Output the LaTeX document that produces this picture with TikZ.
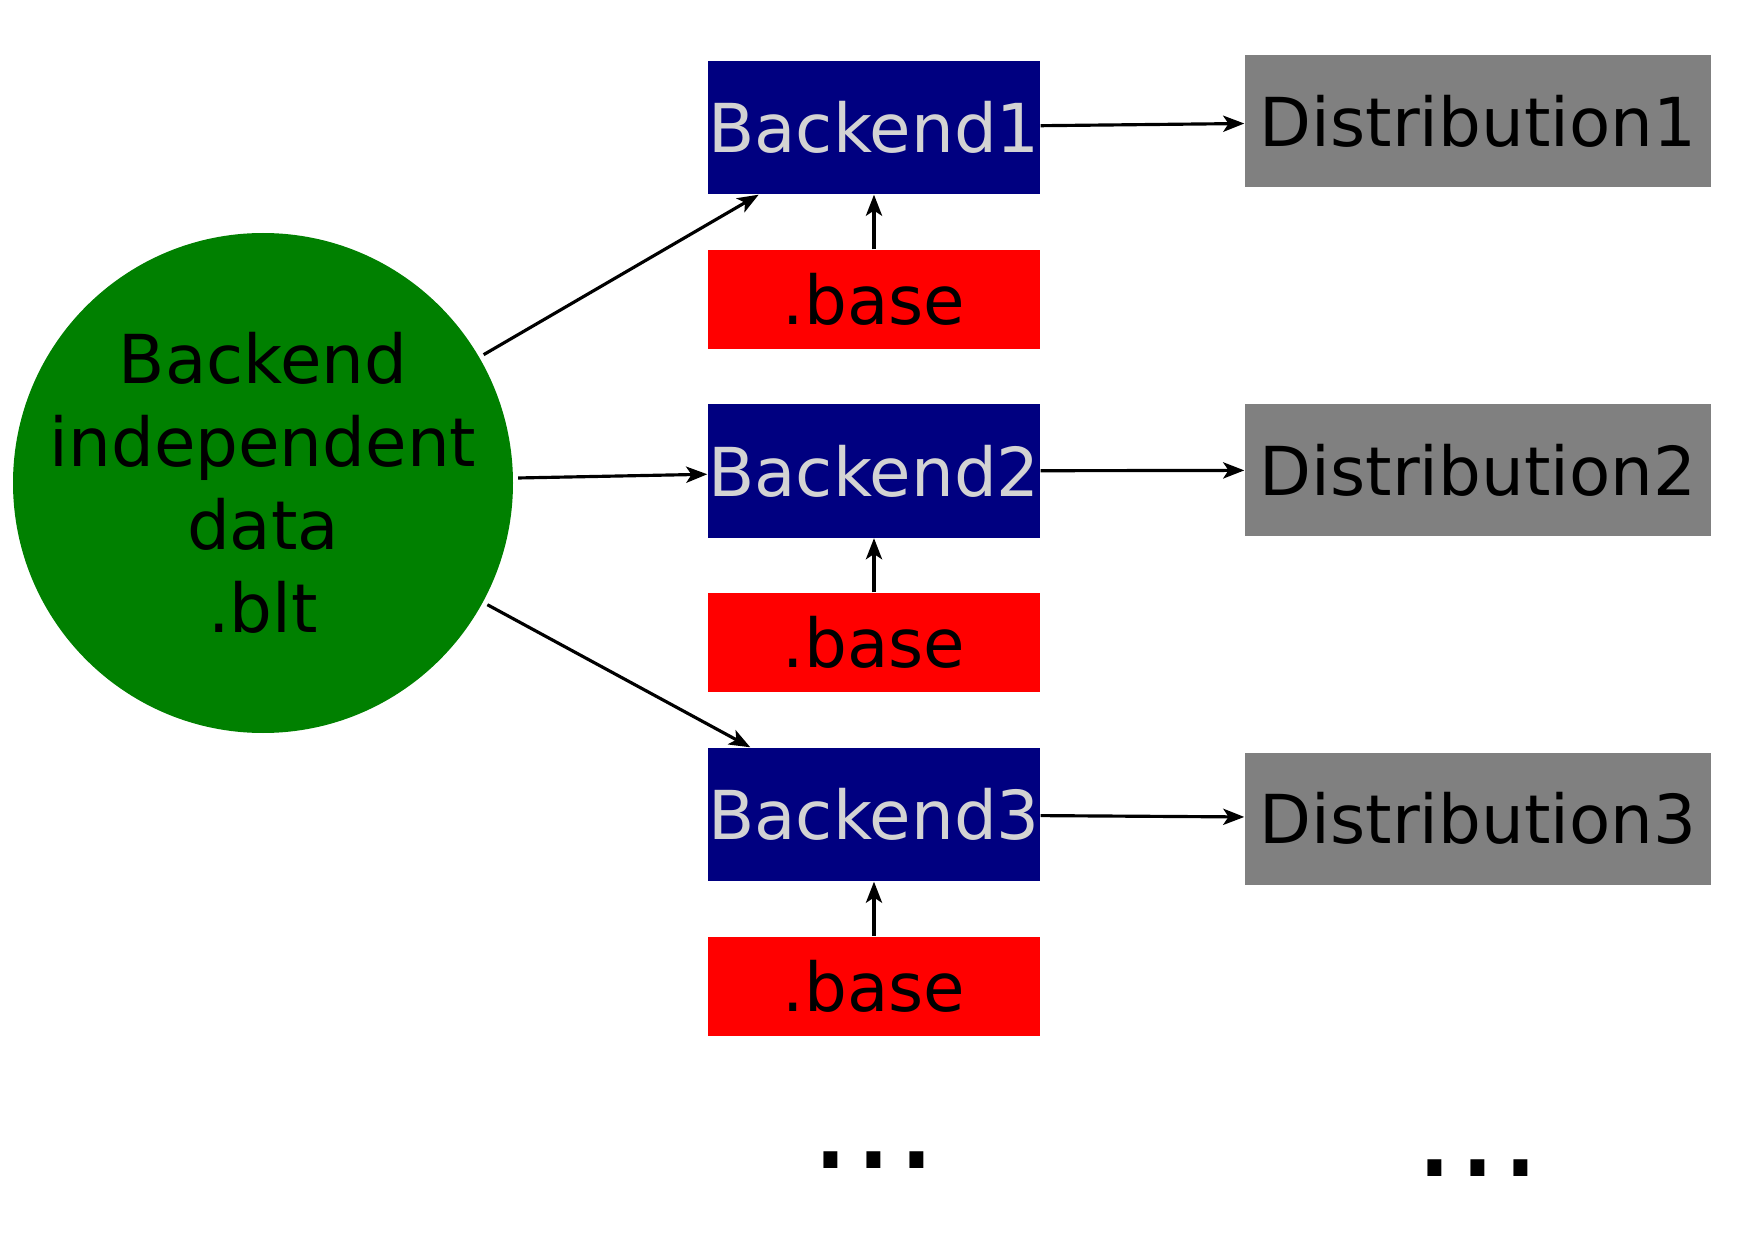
\documentclass[tikz,border=0pt]{standalone}
\usepackage{fontspec}
\setmainfont{DejaVu Sans}
\usetikzlibrary{positioning}
\usetikzlibrary{arrows.meta}
\definecolor{bltgreen}{HTML}{008000}
\definecolor{bknavy}{HTML}{000080}
\definecolor{bktext}{HTML}{D3D3D3}
\tikzset{>={Stealth[length=6pt,width=4.6pt,inset=1.5pt]}}
\tikzset{ar/.style={->,line width=0.9pt}}
\tikzset{blob/.style={circle,fill=bltgreen,minimum size=5cm,inner sep=-5mm,outer sep=1.5pt,align=center,font=\fontsize{19.2}{23.6}\selectfont}}
\tikzset{backend/.style={rectangle,fill=bknavy,text=bktext,minimum width=3.32cm,minimum height=1.33cm,inner sep=0pt,font=\fontsize{19.2}{23}\selectfont}}
\tikzset{basebox/.style={rectangle,fill=red,minimum width=3.32cm,minimum height=0.99cm,inner sep=0pt,font=\fontsize{19.2}{23}\selectfont}}
\tikzset{dist/.style={rectangle,fill=gray,minimum width=4.66cm,minimum height=1.32cm,inner sep=0pt,font=\fontsize{19.2}{23}\selectfont}}
\tikzset{more/.style={inner sep=0pt,anchor=base,font=\fontsize{38.4}{40}\selectfont}}

\begin{document}
\begin{tikzpicture}[on grid]
        \useasboundingbox (0,0) rectangle (17.48,12.40);

        \node[blob] (blt) at (2.63,7.57) {Backend\\independent\\data\\.blt};

        \node[backend] (b1) at (8.74,11.125) {Backend1};
        \node[basebox, below=1.72 of b1] (base1) {.base};
        \node[backend, below=3.435 of b1] (b2) {Backend2};
        \node[basebox, below=1.715 of b2] (base2) {.base};
        \node[backend, below=3.435 of b2] (b3) {Backend3};
        \node[basebox, below=1.715 of b3] (base3) {.base};

        \node[dist, right=6.04 of b1, yshift=0.65mm] (d1) {Distribution1};
        \node[dist, right=6.04 of b2, yshift=0.1mm] (d2) {Distribution2};
        \node[dist, right=6.04 of b3, yshift=-0.4mm] (d3) {Distribution3};

        \node[more] (more1) at (8.74,0.72) {...};
        \node[more] (more2) at (14.78,0.64) {...};

        \draw [ar] (blt) -- (b1);
        \draw [ar] (blt) -- (b2);
        \draw [ar] (blt) -- (b3);

        \draw [ar] (base1) -- (b1);
        \draw [ar] (base2) -- (b2);
        \draw [ar] (base3) -- (b3);

        \draw [ar] (b1) -- (d1);
        \draw [ar] (b2) -- (d2);
        \draw [ar] (b3) -- (d3);
    \end{tikzpicture}
\end{document}
